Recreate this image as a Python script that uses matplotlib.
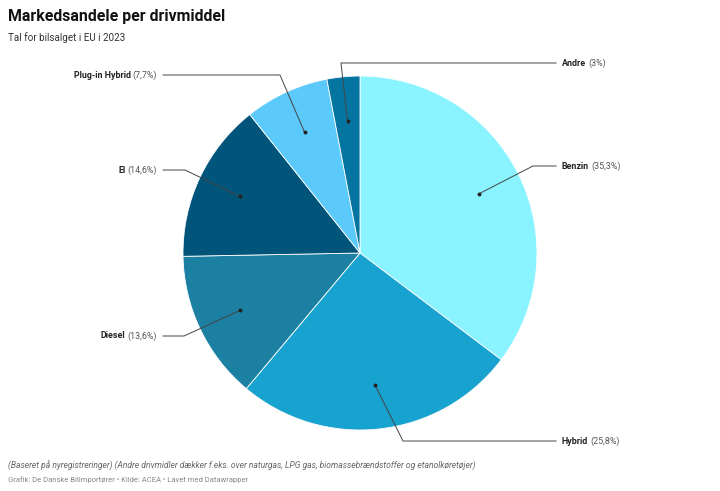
import numpy as np
import matplotlib.pyplot as plt

plt.rcParams['font.family'] = ['Roboto', 'DejaVu Sans']

# data
drivmidler = ["Benzin", "Hybrid", "Diesel", "El", "Plug-in Hybrid", "Andre"]
andele = [35.3, 25.8, 13.6, 14.6, 7.7, 3.0]
farver = ["#89f4ff", "#18a2cf", "#1c80a3", "#01557b", "#5bc9f9", "#0475a1"]

# layout of labels (pixel coords, y from top)
label_y = [166, 441, 336, 170, 75, 63]
elbow_x = [533, 403, 184, 185, 280, 341]
side = ["r", "r", "l", "l", "l", "r"]

W, H = 720, 491
cx, cy, R = 360, 253, 177

fig = plt.figure(figsize=(W / 100, H / 100), dpi=100)
ax = fig.add_axes([0, 0, 1, 1])

wedges, _ = ax.pie(andele, colors=farver, startangle=90, counterclock=False,
                   center=(cx, H - cy), radius=R,
                   wedgeprops=dict(edgecolor="white", linewidth=0.6))
ax.set_xlim(0, W)
ax.set_ylim(0, H)
ax.set_aspect("auto")
ax.axis("off")

fs = 6.4
for w, navn, v, ly, ex, s in zip(wedges, drivmidler, andele, label_y, elbow_x, side):
    mid = np.deg2rad((w.theta1 + w.theta2) / 2)
    dx = cx + 0.75 * R * np.cos(mid)
    dy = (H - cy) + 0.75 * R * np.sin(mid)
    yy = H - ly
    pct = "(" + f"{v:g}".replace(".", ",") + "%)"
    if s == "r":
        ax.plot([dx, ex, 556], [dy, yy, yy], color="#444444", lw=0.7)
        t = ax.text(562, yy, navn, fontsize=fs, fontweight="bold",
                    color="#222222", ha="left", va="center")
        ax.annotate(pct, xy=(1, 0.5), xycoords=t, xytext=(1.5, 0),
                    textcoords="offset points", fontsize=fs,
                    color="#555555", ha="left", va="center")
    else:
        ax.plot([dx, ex, 163], [dy, yy, yy], color="#444444", lw=0.7)
        t = ax.text(157, yy, pct, fontsize=fs, color="#555555",
                    ha="right", va="center")
        ax.annotate(navn, xy=(0, 0.5), xycoords=t, xytext=(-1.5, 0),
                    textcoords="offset points", fontsize=fs,
                    fontweight="bold", color="#222222", ha="right", va="center")
    ax.plot(dx, dy, "o", color="#222222", ms=1.8)

fig.text(8 / W, 1 - 17 / H, "Markedsandele per drivmiddel", fontsize=11.4,
         fontweight="bold", color="#111111", ha="left", va="center")
fig.text(8 / W, 1 - 38 / H, "Tal for bilsalget i EU i 2023", fontsize=7.1,
         color="#333333", ha="left", va="center")
fig.text(8 / W, 1 - 466 / H,
         "(Baseret på nyregistreringer) (Andre drivmidler dækker f.eks. over naturgas, "
         "LPG gas, biomassebrændstoffer og etanolkøretøjer)",
         fontsize=6.15, style="italic", color="#666666", ha="left", va="center")
fig.text(8 / W, 1 - 480 / H,
         "Grafik: De Danske Bilimportører • Kilde: ACEA • Lavet med Datawrapper",
         fontsize=5.5, color="#888888", ha="left", va="center")

fig.savefig("out.png", dpi=100)
